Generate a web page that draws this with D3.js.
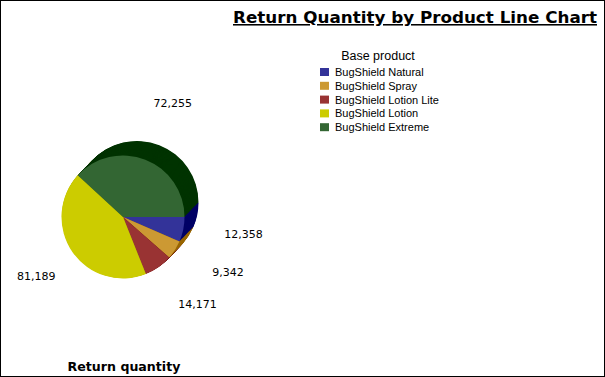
<!DOCTYPE html>
<html>
<head>
<meta charset="utf-8">
<script src="https://cdn.jsdelivr.net/npm/d3@7"></script>
<style>
  body { margin: 0; background: #fff; }
  svg { display: block; }
</style>
</head>
<body>
<div id="main"></div>
<script>
const W = 605;
const H = 377;

// data
const products = ["BugShield Natural", "BugShield Spray", "BugShield Lotion Lite", "BugShield Lotion", "BugShield Extreme"];
const returnQty = [12358, 9342, 14171, 81189, 72255];
const colors = ["#333399", "#CC9933", "#993333", "#CCCC00", "#336633"];

const PIE = { cx: 123, cy: 217, r: 61.5, dx: 14, dy: -14.5, labelR: 115 };

var svg = d3.select("#main").append("svg")
    .attr("width", W)
    .attr("height", H);

svg.append("rect")
    .attr("x", 0.5).attr("y", 0.5)
    .attr("width", W - 1).attr("height", H - 1)
    .attr("fill", "#fff")
    .attr("stroke", "#000");

// title
svg.append("text")
    .attr("x", 597).attr("y", 23)
    .attr("text-anchor", "end")
    .attr("textLength", 364)
    .attr("lengthAdjust", "spacingAndGlyphs")
    .style("font-family", "DejaVu Sans")
    .style("font-weight", "bold")
    .style("font-size", "15.5px")
    .style("text-decoration", "underline")
    .text("Return Quantity by Product Line Chart");

// axis title
svg.append("text")
    .attr("x", 124).attr("y", 371)
    .attr("text-anchor", "middle")
    .style("font-family", "DejaVu Sans")
    .style("font-weight", "bold")
    .style("font-size", "12.6px")
    .text("Return quantity");

var color = d3.scaleOrdinal().domain(products).range(colors);
var darken = function (c) {
    let rgb = d3.rgb(c);
    return d3.rgb(Math.max(0, rgb.r - 51), Math.max(0, rgb.g - 51), Math.max(0, rgb.b - 51)).toString();
};

var data = products.map((p, i) => ({ product: p, value: returnQty[i] }));

var pie = d3.pie()
    .sort(null)
    .value(d => d.value)
    .startAngle(Math.PI / 2)
    .endAngle(Math.PI / 2 + 2 * Math.PI);
var arcs = pie(data);

var arc = d3.arc().innerRadius(0).outerRadius(PIE.r);

// extruded sides: stack darker copies towards the back
var N = 30;
var pieG = svg.append("g");
for (let k = N; k >= 1; k--) {
    pieG.append("g")
        .attr("transform", "translate(" + (PIE.cx + PIE.dx * k / N) + "," + (PIE.cy + PIE.dy * k / N) + ")")
        .selectAll("path")
        .data(arcs)
        .enter()
        .append("path")
        .attr("d", arc)
        .attr("fill", d => darken(color(d.data.product)));
}
// front face
pieG.append("g")
    .attr("transform", "translate(" + PIE.cx + "," + PIE.cy + ")")
    .selectAll("path")
    .data(arcs)
    .enter()
    .append("path")
    .attr("d", arc)
    .attr("fill", d => color(d.data.product));

// value labels
var labelArc = d3.arc().innerRadius(PIE.labelR).outerRadius(PIE.labelR);
svg.append("g")
    .attr("transform", "translate(" + (PIE.cx + 8) + "," + (PIE.cy - 6.5) + ")")
    .selectAll("text")
    .data(arcs)
    .enter()
    .append("text")
    .attr("transform", d => "translate(" + labelArc.centroid(d) + ")")
    .attr("text-anchor", "middle")
    .attr("dy", "0.35em")
    .style("font-family", "DejaVu Sans")
    .style("font-size", "11px")
    .text(d => d3.format(",")(d.data.value));

// legend
var legend = svg.append("g").attr("transform", "translate(320,0)");
legend.append("text")
    .attr("x", 58).attr("y", 60)
    .attr("text-anchor", "middle")
    .style("font-family", "Liberation Sans")
    .style("font-size", "12.5px")
    .text("Base product");

var rows = legend.selectAll("g.item")
    .data(products)
    .enter()
    .append("g")
    .attr("class", "item")
    .attr("transform", (d, i) => "translate(0," + (72 + i * 13.8) + ")");
rows.append("rect")
    .attr("x", 0).attr("y", -4)
    .attr("width", 9).attr("height", 8)
    .attr("fill", d => color(d));
rows.append("text")
    .attr("x", 15).attr("y", 4)
    .style("font-family", "Liberation Sans")
    .style("font-size", "11px")
    .text(d => d);
</script>
</body>
</html>
